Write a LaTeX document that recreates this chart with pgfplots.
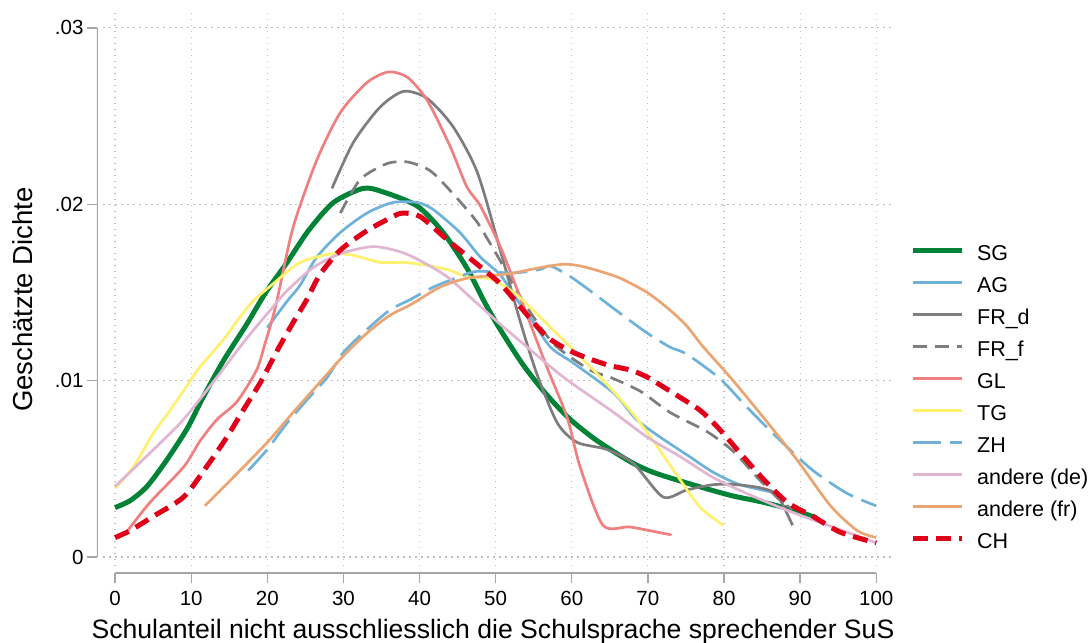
\documentclass[border=0pt]{standalone}
\usepackage{fontspec}
\setmainfont{Liberation Sans}
\usepackage{pgfplots}
\pgfplotsset{compat=1.18}
\definecolor{cSG}{RGB}{0,130,55}
\definecolor{cAG}{RGB}{110,178,218}
\definecolor{cFR}{RGB}{125,125,125}
\definecolor{cGL}{RGB}{240,128,128}
\definecolor{cTG}{RGB}{255,240,110}
\definecolor{cDE}{RGB}{226,182,210}
\definecolor{cFRf}{RGB}{235,165,115}
\definecolor{cCH}{RGB}{225,0,26}
\definecolor{cGrid}{RGB}{190,190,190}
\begin{document}
\begin{tikzpicture}
\useasboundingbox (-97pt,-70pt) rectangle (991pt,573pt);
\begin{axis}[
 at={(0pt,0pt)}, anchor=south west,
 scale only axis, width=796pt, height=561pt,
 xmin=-2.37, xmax=102.2, ymin=-0.000907, ymax=0.0309,
 axis line style={draw=none},
 xtick={0,10,...,100}, ytick={0,0.01,0.02,0.03}, yticklabels={0,.01,.02,.03},
 scaled y ticks=false,
 xtick pos=left, ytick pos=left, tick align=outside, major tick length=10pt,
 tick style={color=black!35, line width=1.3pt},
 ticklabel style={font=\fontsize{20.5}{24}\selectfont},
 xticklabel style={yshift=-5pt},
 /pgf/number format/assume math mode=true,
 every axis plot/.append style={smooth, tension=0.45, line join=round},
 legend style={at={(1.0175,0.588)}, anchor=north west, draw=none, fill=none,
   font=\fontsize{21.5}{24}\selectfont, row sep=12pt,
   nodes={inner sep=0pt, text height=15pt, text depth=5pt, font=\fontsize{21.5}{24}\selectfont},
   /tikz/every odd column/.append style={column sep=13pt}},
 legend cell align=left,
 legend image code/.code={\draw[#1] (0pt,5pt) -- (49pt,5pt);},
]
\pgfplotsinvokeforeach{0,10,...,100}{
  \draw[cGrid, line width=1.2pt, dash pattern=on 1.3pt off 4.7pt] (axis cs:#1,-0.0005) -- (axis cs:#1,0.0309);}
\pgfplotsinvokeforeach{0,0.01,0.02,0.03}{
  \draw[cGrid, line width=1.2pt, dash pattern=on 1.3pt off 4.7pt] (axis cs:-1.55,#1) -- (axis cs:102.2,#1);}
\draw[black!35, line width=1.5pt] (axis cs:-2.37,0) -- (axis cs:-2.37,0.03);
\draw[black!35, line width=1.5pt] (axis cs:0,-0.000907) -- (axis cs:100,-0.000907);

\addplot[cSG, line width=5pt] coordinates {(0,.0028)(2,.0032)(4.2,.0040)(6.8,.0055)(9.5,.0073)(11.5,.0090)(14.2,.0111)(17.3,.0132)(19.8,.0150)(22.6,.0167)(25.4,.0185)(28.7,.0201)(32.6,.0209)(35.2,.0207)(39.7,.0199)(43.1,.0184)(46.2,.0164)(48.6,.0144)(50.6,.0129)(53.6,.0109)(56.7,.0092)(59.8,.0078)(63.3,.0066)(67.7,.0054)(70.7,.0048)(75.1,.0042)(80.8,.0035)(85.2,.0031)(89.6,.0026)(92.2,.0022)};
\addlegendentry{SG}
\addplot[cAG, line width=2.7pt] coordinates {(20,.0130)(22.6,.0145)(24.3,.0154)(26.5,.0170)(29.6,.0184)(33.1,.0195)(36.5,.0201)(39.7,.0201)(41.8,.0197)(45.3,.0184)(48,.0170)(50.6,.0160)(52.8,.0146)(54.5,.0136)(57.2,.0119)(60.2,.0110)(65.5,.0093)(68.5,.0078)(71.6,.0068)(75.1,.0058)(78.6,.0048)(82.1,.0041)(87.2,.0036)};
\addlegendentry{AG}
\addplot[cFR, line width=2.7pt] coordinates {(28.5,.0209)(31.3,.0235)(34.8,.0255)(37.9,.0264)(41,.0260)(44.4,.0244)(47.6,.0218)(50.6,.0174)(53.2,.0134)(55.4,.0104)(58.1,.0076)(60.7,.0065)(64.6,.0061)(68.1,.0053)(72,.0034)(75.1,.0038)(78.6,.0041)(81.7,.0041)(85,.0039)(87,.0035)(89,.0018)};
\addlegendentry{FR\_d}
\addplot[cFR, line width=2.7pt, dash pattern=on 14pt off 8pt] coordinates {(29.6,.0195)(32.2,.0214)(35.7,.0223)(38.4,.0224)(41.4,.0219)(44.4,.0206)(47,.0193)(48,.0187)(50.6,.0168)(53.6,.0145)(57.6,.0121)(62.4,.0106)(65,.0102)(69,.0094)(72.9,.0082)(77.8,.0071)(81.2,.0060)(84.4,.0045)(87.4,.0032)(89,.0027)};
\addlegendentry{FR\_f}
\addplot[cGL, line width=2.7pt] coordinates {(1.5,.0014)(4.6,.0031)(9,.0051)(11.2,.0066)(13.4,.0078)(16,.0088)(18.6,.0106)(19.7,.0121)(20.6,.0134)(21.3,.0146)(23.4,.0187)(26.5,.0225)(29.6,.0252)(33.1,.0269)(35.9,.0275)(38.4,.0272)(41,.0259)(44,.0233)(46.2,.0210)(48,.0199)(50.6,.0176)(52.8,.0152)(56.7,.0108)(59.4,.0079)(61.1,.0051)(64.1,.0018)(67.7,.0017)(72.5,.0013)(73,.0013)};
\addlegendentry{GL}
\addplot[cTG, line width=2.7pt] coordinates {(0,.0039)(2.4,.0051)(5,.0070)(7.2,.0083)(9.9,.0100)(11.2,.0108)(14.2,.0123)(16.4,.0136)(18.1,.0145)(20.8,.0155)(24.3,.0167)(28.6,.0172)(31.3,.0171)(33.9,.0168)(34.8,.0167)(37.9,.0167)(40.1,.0166)(43.6,.0163)(46.2,.0159)(48.9,.0158)(50.6,.0155)(53.2,.0147)(58.9,.0123)(63.3,.0104)(67.7,.0083)(70.7,.0066)(74.2,.0044)(76.9,.0028)(79.9,.0018)};
\addlegendentry{TG}
\addplot[cAG, line width=2.7pt, dash pattern=on 28pt off 9pt] coordinates {(17.5,.0049)(20,.0061)(22.6,.0076)(25.2,.0089)(27.9,.0102)(30,.0116)(33.1,.0129)(36.1,.0140)(38.8,.0146)(41.8,.0153)(45.3,.0159)(47.6,.0162)(52.3,.0161)(55.8,.0163)(57.2,.0165)(59.8,.0159)(62.4,.0151)(66.4,.0138)(69.9,.0127)(72.9,.0119)(75.1,.0115)(79.5,.0101)(83,.0085)(87.4,.0066)(91.7,.0049)(96.2,.0036)(100,.0029)};
\addlegendentry{ZH}
\addplot[cDE, line width=2.7pt] coordinates {(0,.0040)(4.6,.0059)(9,.0078)(13.4,.0102)(17.3,.0124)(20.8,.0142)(22.6,.0151)(26,.0164)(29.6,.0172)(33.9,.0176)(37.5,.0173)(40.1,.0168)(43.6,.0159)(47,.0146)(50.6,.0132)(53.6,.0121)(58.9,.0102)(65.5,.0082)(69.9,.0068)(74.2,.0057)(78.6,.0045)(83,.0036)(87.4,.0028)(91.7,.0021)(96.2,.0014)(100,.0008)};
\addlegendentry{andere (de)}
\addplot[cFRf, line width=2.7pt] coordinates {(11.8,.0029)(15.5,.0045)(20,.0065)(23.4,.0082)(26.9,.0099)(30,.0114)(33.1,.0127)(36.1,.0137)(38.8,.0143)(42.7,.0153)(46.2,.0158)(50.6,.0160)(52.3,.0161)(55.8,.0164)(58.9,.0166)(61.1,.0165)(63.7,.0162)(66.4,.0158)(69.9,.0150)(72.9,.0140)(75.1,.0131)(77.3,.0119)(80.8,.0102)(85.2,.0079)(89.6,.0055)(94,.0029)(97.5,.0015)(100,.0011)};
\addlegendentry{andere (fr)}
\addplot[cCH, line width=5pt, dash pattern=on 15pt off 8pt] coordinates {(0,.0011)(2,.0015)(5,.0023)(9,.0034)(12,.0051)(14.7,.0068)(16.8,.0083)(19.1,.0099)(21.3,.0117)(23.4,.0133)(25.2,.0146)(26.9,.0160)(29.6,.0174)(33.1,.0185)(36.5,.0193)(37.8,.0195)(40.1,.0193)(43.6,.0180)(47,.0168)(50.6,.0155)(53.2,.0142)(56.7,.0125)(60.2,.0116)(64.6,.0109)(67.7,.0106)(69.9,.0102)(73.3,.0093)(76.9,.0083)(79.5,.0072)(82.1,.0059)(85.2,.0044)(88.3,.0031)(91.7,.0023)(95.3,.0014)(100,.0008)};
\addlegendentry{CH}
\end{axis}
\node[rotate=90, anchor=base, font=\fontsize{27.5}{30}\selectfont] at (-64pt,273.5pt) {Geschätzte Dichte};
\node[anchor=base, font=\fontsize{26.6}{30}\selectfont] at (396pt,-66pt) {Schulanteil nicht ausschliesslich die Schulsprache sprechender SuS};
\end{tikzpicture}
\end{document}
